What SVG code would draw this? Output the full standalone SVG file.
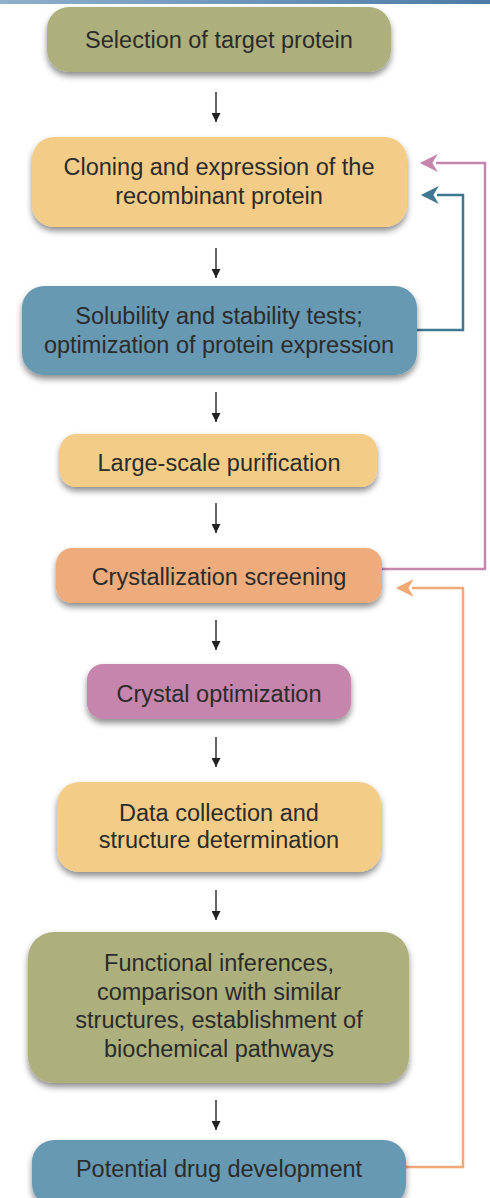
<svg xmlns="http://www.w3.org/2000/svg" width="490" height="1198" viewBox="0 0 490 1198">
<defs>
<linearGradient id="bar" x1="0" y1="0" x2="1" y2="0">
<stop offset="0" stop-color="#8fb0cc"/>
<stop offset="1" stop-color="#4d7aa6"/>
</linearGradient>
<filter id="sh" x="-10%" y="-20%" width="120%" height="150%">
<feDropShadow dx="0" dy="4" stdDeviation="3" flood-color="#000" flood-opacity="0.45"/>
</filter>
<marker id="ak" viewBox="0 0 10 10" refX="10" refY="5" markerWidth="9" markerHeight="9" markerUnits="userSpaceOnUse" orient="auto"><path d="M0,0 L10,5 L0,10 z" fill="#222"/></marker>
<marker id="ap" viewBox="0 0 10 10" refX="1" refY="5" markerWidth="21" markerHeight="18" markerUnits="userSpaceOnUse" orient="auto"><path d="M0,0 L10,5 L0,10 L3,5 z" fill="#c585ad"/></marker>
<marker id="ab" viewBox="0 0 10 10" refX="1" refY="5" markerWidth="21" markerHeight="18" markerUnits="userSpaceOnUse" orient="auto"><path d="M0,0 L10,5 L0,10 L3,5 z" fill="#3f7690"/></marker>
<marker id="ao" viewBox="0 0 10 10" refX="1" refY="5" markerWidth="21" markerHeight="18" markerUnits="userSpaceOnUse" orient="auto"><path d="M0,0 L10,5 L0,10 L3,5 z" fill="#f2a978"/></marker>
</defs>
<style>
.t{font-family:"Liberation Sans",Arial,sans-serif;font-size:23.5px;fill:#2b2b2b;text-anchor:middle}
.n{filter:url(#sh)}
.ol{fill:#adb07b}.ye{fill:#f3cd88}.bl{fill:#6899b3}.pe{fill:#eeab7c}.pi{fill:#c585ad}
.k{stroke:#333;stroke-width:1.5;fill:none}
.fb{fill:none;stroke-width:2.5}
</style>
<rect x="0" y="0" width="490" height="4" fill="url(#bar)"/>
<g id="connectors">
<line class="k" x1="216" y1="92" x2="216" y2="122" marker-end="url(#ak)"/>
<line class="k" x1="216" y1="248" x2="216" y2="278" marker-end="url(#ak)"/>
<line class="k" x1="216" y1="392" x2="216" y2="422" marker-end="url(#ak)"/>
<line class="k" x1="216" y1="503" x2="216" y2="533" marker-end="url(#ak)"/>
<line class="k" x1="216" y1="620" x2="216" y2="650" marker-end="url(#ak)"/>
<line class="k" x1="216" y1="737" x2="216" y2="767" marker-end="url(#ak)"/>
<line class="k" x1="216" y1="890" x2="216" y2="920" marker-end="url(#ak)"/>
<line class="k" x1="216" y1="1100" x2="216" y2="1130" marker-end="url(#ak)"/>
<path class="fb" stroke="#c585ad" d="M382,569 H485 V163 H436" marker-end="url(#ap)"/>
<path class="fb" stroke="#3f7690" d="M417,330 H463 V195 H437" marker-end="url(#ab)"/>
<path class="fb" stroke="#f2a978" d="M406,1167 H463 V588 H412" marker-end="url(#ao)"/>
</g>
<g id="n1"><rect class="n ol" x="47" y="7" width="344" height="65" rx="22"/><text class="t" x="219" y="48">Selection of target protein</text></g>
<g id="n2"><rect class="n ye" x="32" y="137" width="375" height="90" rx="22"/><text class="t" x="219" y="175">Cloning and expression of the</text><text class="t" x="219" y="204">recombinant protein</text></g>
<g id="n3"><rect class="n bl" x="22" y="286" width="395" height="89" rx="22"/><text class="t" x="219" y="324">Solubility and stability tests;</text><text class="t" x="219" y="353">optimization of protein expression</text></g>
<g id="n4"><rect class="n ye" x="60" y="434" width="317" height="53" rx="16"/><text class="t" x="219" y="471">Large-scale purification</text></g>
<g id="n5"><rect class="n pe" x="56" y="548" width="326" height="55" rx="16"/><text class="t" x="219" y="585">Crystallization screening</text></g>
<g id="n6"><rect class="n pi" x="87" y="664" width="264" height="55" rx="16"/><text class="t" x="219" y="702">Crystal optimization</text></g>
<g id="n7"><rect class="n ye" x="57" y="782" width="324" height="90" rx="22"/><text class="t" x="219" y="821">Data collection and</text><text class="t" x="219" y="848">structure determination</text></g>
<g id="n8"><rect class="n ol" x="28" y="932" width="381" height="151" rx="26"/><text class="t" x="219" y="971">Functional inferences,</text><text class="t" x="219" y="1000">comparison with similar</text><text class="t" x="219" y="1028">structures, establishment of</text><text class="t" x="219" y="1057">biochemical pathways</text></g>
<g id="n9"><rect class="n bl" x="32" y="1140" width="374" height="66" rx="22"/><text class="t" x="219" y="1177">Potential drug development</text></g>
</svg>
